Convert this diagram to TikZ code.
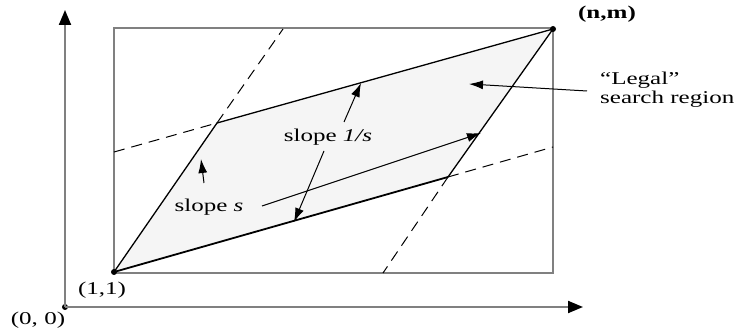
\documentclass[tikz,border=0pt]{standalone}
\usepackage{fontspec}
\setmainfont{Liberation Serif}
\usepackage{graphicx}
\usetikzlibrary{positioning,arrows.meta}
\newcommand{\widetext}[1]{\scalebox{1.39}[1]{#1}}

\begin{document}
\begin{tikzpicture}[x=1pt,y=-1pt,
  axis/.style={draw=gray,line width=2pt},
  frame/.style={draw=gray,line width=1.6pt},
  edge/.style={line width=1.3pt},
  guide/.style={line width=1pt,dash pattern=on 11pt off 7pt},
  pointer/.style={-{Latex[length=14pt,width=9pt]},line width=1pt},
  lbl/.style={font=\fontsize{18}{21}\selectfont,inner sep=0pt},
  dot/.style={circle,fill=black,inner sep=0pt,minimum size=6pt}]
\useasboundingbox (0,0) rectangle (737,334);
% axes
\node[dot] (origin) at (65,307) {};
\coordinate (ytop) at (65,10);
\coordinate (xend) at (583,307);
\draw[axis,-{Triangle[length=15pt,width=12pt,color=black]}] (origin.center) -- (ytop);
\draw[axis,-{Triangle[length=15pt,width=12pt,color=black]}] (origin.center) -- (xend);
\node[lbl] (olbl) at (38,320) {\widetext{(0, 0)}};
% search rectangle
\draw[frame] (114,28) rectangle (553,273);
% legal region
\coordinate (A) at (114,272);
\coordinate (B) at (217,123);
\coordinate (C) at (553,29);
\coordinate (D) at (448,177);
\fill[black!4] (A) -- (B) -- (C) -- (D) -- cycle;
\draw[edge] (A) -- (B) -- (C) -- (D);
\draw[line width=1.8pt] (D) -- (A);
\draw[guide] (114,152) -- (B);
\draw[guide] (B) -- (283,29);
\draw[guide] (D) -- (383,273);
\draw[guide] (D) -- (553,147);
\node[dot] (start) at (A) {};
\node[dot] (goal) at (C) {};
\node[lbl,font=\fontsize{18}{21}\selectfont\bfseries] (nm) at (607,14) {\widetext{(n,m)}};
\node[lbl] (one) at (102,290) {\widetext{(1,1)}};
% slope labels
\node[lbl] (slopeS) at (209,207) {\widetext{slope \textit{s}}};
\node[lbl] (slopeInv) at (328,137) {\widetext{slope \textit{1/s}}};
\coordinate (sTail) at (204,183);
\coordinate (sTip) at (201,159);
\coordinate (sLine) at (262,206);
\coordinate (sEnd) at (481,133);
\coordinate (iTail) at (344,122);
\coordinate (iTip) at (361,83);
\coordinate (jTail) at (324,151);
\coordinate (jTip) at (294,222);
\draw[pointer] (sTail) -- (sTip);
\draw[pointer] (sLine) -- (sEnd);
\draw[pointer] (iTail) -- (iTip);
\draw[pointer] (jTail) -- (jTip);
% region label
\node[lbl,anchor=west] (legal) at (600,80) {\widetext{``Legal''}};
\node[lbl,anchor=west] (search) at (600,99) {\widetext{search region}};
\coordinate (legalTail) at (587,91);
\coordinate (legalTip) at (469,84);
\draw[pointer] (legalTail) -- (legalTip);
\end{tikzpicture}
\end{document}
